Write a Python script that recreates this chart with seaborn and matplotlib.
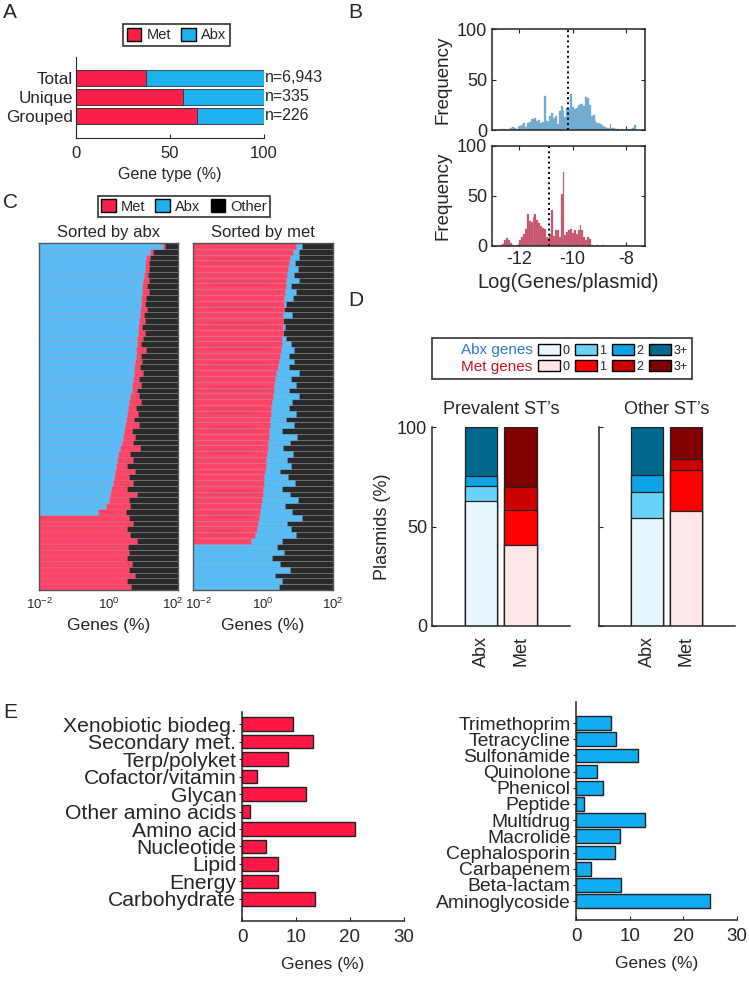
import numpy as np
import pandas as pd
import matplotlib
matplotlib.use('Agg')
import matplotlib.pyplot as plt
from matplotlib.patches import Patch
from matplotlib.transforms import ScaledTranslation
import seaborn as sns

# ---------------- data ----------------
# A: gene type split
sets = ['Total', 'Unique', 'Grouped']
met_pct = [37, 57, 64.5]
abx_pct = [63, 43, 35.5]
n_labels = ['n=6,943', 'n=335', 'n=226']

# B: histogram of log(genes/plasmid), fixed bins
bin_start = -12.75
bin_width = 0.07
abx_counts = [1, 0, 1, 1, 0, 1, 2, 3, 2, 1, 3, 4, 5, 7, 3, 7, 8, 11, 11, 12,
              9, 10, 7, 8, 34, 9, 8, 14, 17, 12, 14, 6, 19, 24, 19, 13, 22, 21, 36, 23,
              21, 22, 25, 26, 26, 24, 33, 32, 25, 14, 15, 9, 7, 7, 6, 4, 3, 2, 2, 6,
              2, 2, 1, 1, 0, 1, 0, 1, 1, 0, 1, 2, 5]
met_counts = [0, 1, 2, 6, 8, 6, 3, 1, 0, 1, 2, 6, 9, 12, 17, 32, 25, 24, 29, 32,
              26, 23, 20, 18, 17, 9, 8, 12, 36, 10, 16, 16, 9, 52, 74, 11, 14, 16, 17, 13,
              16, 12, 16, 21, 16, 9, 6, 9, 7, 1, 0, 0, 1, 0, 0, 1, 0, 0, 0, 0,
              0, 0, 0, 0, 0, 0, 0, 0, 0, 0, 0, 0, 0]
abx_median = -10.17
met_median = -10.88

# C: per-plasmid composition (%), sorted by abx / sorted by met
byabx_abx = [38, 16, 12, 11.5, 11, 10.5, 10, 9.5, 9.2, 8.8,
             8.5, 8.0, 7.8, 7.5, 7.2, 7.0, 6.7, 6.4, 6.2, 6.0,
             5.8, 5.6, 5.3, 5.0, 4.8, 4.6, 4.2, 3.9, 3.6, 3.3,
             3.1, 3.0, 2.8, 2.6, 2.4, 2.2, 1.9, 1.7, 1.6, 1.5,
             1.45, 1.35, 1.2, 1.1, 1.0, 0.85, 0.5, 0, 0, 0,
             0, 0, 0, 0, 0, 0, 0, 0, 0, 0]
byabx_met = [3, 2.5, 3.5, 2.8, 4, 3, 4.5, 3.2, 5, 3.6,
             3, 4.8, 2.6, 3.9, 2.2, 4.5, 3, 2.4, 5.5, 2.8,
             3.5, 2.2, 4.6, 2.5, 3.8, 1.8, 3.2, 5, 2.4, 3.6,
             2.2, 4.4, 1.9, 3.3, 2.6, 6, 2.2, 3.4, 1.8, 4.2,
             2.5, 3.6, 2.1, 5.5, 2.8, 3.4, 2.6, 3.8, 5.2, 3.5,
             4.2, 6.5, 3.6, 4.0, 3.3, 4.6, 3.9, 5.8, 3.5, 4.4]
bymet_met = [9, 7, 6, 5.6, 5.2, 4.9, 4.6, 4.4, 4.3, 4.1,
             4.0, 3.9, 3.8, 3.75, 3.7, 3.65, 3.6, 3.4, 3.2, 3.0,
             2.8, 2.6, 2.4, 2.25, 2.1, 2.0, 1.9, 1.8, 1.7, 1.65,
             1.6, 1.55, 1.5, 1.45, 1.4, 1.35, 1.3, 1.25, 1.2, 1.15,
             1.1, 1.05, 1.0, 0.97, 0.93, 0.88, 0.8, 0.75, 0.7, 0.66,
             0.6, 0.46, 0, 0, 0, 0, 0, 0, 0, 0]
bymet_abx = [4, 3.5, 5, 2.5, 4.5, 3, 6, 2, 4.5, 3,
             0.6, 0, 2.8, 0, 0.5, 0, 0.8, 3, 4.5, 2.5,
             5, 3, 8, 4, 6.5, 3.5, 9, 5, 4, 7,
             3, 6, 2, 8, 4.5, 2.5, 6, 3.5, 5, 2,
             4, 7, 2.5, 5, 9, 3.5, 6, 12, 4, 5.5,
             8, 3, 2.5, 4, 1.8, 3, 6, 2.2, 3.5, 2.8]

# D: genes per plasmid (% of plasmids), levels 0 / 1 / 2 / 3+
gene_levels = ['0', '1', '2', '3+']
prev_abx = [62.7, 7.5, 5.4, 24.4]
prev_met = [40.6, 17.6, 11.4, 30.4]
other_abx = [54.3, 12.8, 9.0, 23.9]
other_met = [57.7, 20.9, 5.3, 16.1]

# E: gene categories
met_pathways = ['Xenobiotic biodeg.', 'Secondary met.', 'Terp/polyket', 'Cofactor/vitamin',
                'Glycan', 'Other amino acids', 'Amino acid', 'Nucleotide', 'Lipid',
                'Energy', 'Carbohydrate']
met_pathway_pct = [9.5, 13.2, 8.6, 2.8, 11.9, 1.5, 21.0, 4.4, 6.6, 6.7, 13.5]
abx_classes = ['Trimethoprim', 'Tetracycline', 'Sulfonamide', 'Quinolone', 'Phenicol',
               'Peptide', 'Multidrug', 'Macrolide', 'Cephalosporin', 'Carbapenem',
               'Beta-lactam', 'Aminoglycoside']
abx_class_pct = [6.5, 7.5, 11.5, 4.0, 5.0, 1.5, 12.8, 8.2, 7.2, 2.8, 8.4, 24.9]

# ---------------- style ----------------
sns.set_style('ticks')
plt.rcParams['font.family'] = ['Liberation Sans', 'DejaVu Sans']
plt.rcParams['mathtext.fontset'] = 'custom'
plt.rcParams['mathtext.rm'] = 'Liberation Sans'
plt.rcParams['axes.unicode_minus'] = False
TXT = '#262626'
for k in ['text.color', 'axes.labelcolor', 'xtick.color', 'ytick.color', 'axes.edgecolor']:
    plt.rcParams[k] = TXT

RED = '#F81F48'
BLUE = '#1DB1EF'
C_RED = '#FF4465'
C_BLUE = '#56BDF8'
C_BLACK = '#2A2A2A'
ABX_COLS = ['#E6F8FD', '#69D4FB', '#0DA3E6', '#00688F']
MET_COLS = ['#FFE6E8', '#FF0000', '#CC0000', '#800000']

W, H = 749, 981
fig = plt.figure(figsize=(W / 100, H / 100), dpi=100)


def add_ax(l, t, r, b):
    return fig.add_axes([l / W, 1 - b / H, (r - l) / W, (b - t) / H])


def fx(x):
    return x / W


def fy(y):
    return 1 - y / H


# panel letters
for lab, x, y in [('A', 10, 12), ('B', 355, 12), ('C', 10, 203), ('D', 356, 301), ('E', 10, 712)]:
    fig.text(fx(x), fy(y), lab, fontsize=15, ha='center', va='center')

# ---------------- A ----------------
axA = add_ax(76, 57, 264, 138)
totals = [m + a for m, a in zip(met_pct, abx_pct)]
sns.barplot(x=totals, y=sets, orient='h', color=BLUE, saturation=1, width=0.8,
            edgecolor='#333333', linewidth=0.6, ax=axA)
sns.barplot(x=met_pct, y=sets, orient='h', color=RED, saturation=1, width=0.8,
            edgecolor='#333333', linewidth=0.6, ax=axA)
for i, lab in enumerate(n_labels):
    axA.text(100.5, i, lab, va='center', ha='left', fontsize=11.5)
axA.set_xlim(0, 100)
axA.set_ylim(3.16, -1.1)
axA.set_xticks([0, 50, 100])
axA.tick_params(axis='x', direction='in', length=3, labelsize=12, pad=6)
axA.tick_params(axis='y', length=0, labelsize=12.3, pad=2)
axA.set_xlabel('Gene type (%)', fontsize=11.5)
axA.set_ylabel('')
sns.despine(ax=axA)
legA = fig.legend([Patch(facecolor=RED, edgecolor='black'), Patch(facecolor=BLUE, edgecolor='black')],
                  ['Met', 'Abx'], loc='center', bbox_to_anchor=(fx(176.5), fy(35)), ncol=2,
                  fancybox=False, edgecolor='black', fontsize=10.5, handlelength=1.0,
                  handleheight=1.0, handletextpad=0.35, columnspacing=0.7, borderpad=0.25)
legA.get_frame().set_linewidth(1.2)

# ---------------- B ----------------
n_bins = len(abx_counts)
centers = [bin_start + bin_width * (i + 0.5) for i in range(n_bins)]
axB1 = add_ax(492, 29, 645, 130)
axB2 = add_ax(492, 146, 645, 246)
for ax, counts, col, med in [(axB1, abx_counts, '#64B2E4', abx_median),
                             (axB2, met_counts, '#D9435F', met_median)]:
    hist_df = pd.DataFrame({'logratio': centers, 'count': counts})
    sns.histplot(data=hist_df, x='logratio', weights='count', binwidth=bin_width,
                 binrange=(bin_start, bin_start + bin_width * n_bins), color=col, alpha=1,
                 edgecolor='#9A9FA4', linewidth=0.25, ax=ax)
    ax.axvline(med, color='black', linestyle=':', linewidth=1.4)
    ax.set_xlim(-13.0, -7.3)
    ax.set_ylim(0, 100)
    ax.set_yticks([0, 50, 100])
    ax.set_xticks([-12, -10, -8])
    ax.tick_params(direction='in', top=True, right=True, length=3, labelsize=13)
    ax.set_ylabel('Frequency', fontsize=13.5)
    for s in ax.spines.values():
        s.set_linewidth(1.1)
axB1.set_xticklabels([])
axB1.set_xlabel('')
axB2.set_xlabel('Log(Genes/plasmid)', fontsize=14.5)

# ---------------- C ----------------
def composition(ax, abx, met, order, title):
    other = [100 - a - m for a, m in zip(abx, met)]
    rows = np.arange(len(abx))
    ax.set_xscale('log')
    first, second = (abx, met) if order == 'abx' else (met, abx)
    c1, c2 = (C_BLUE, C_RED) if order == 'abx' else (C_RED, C_BLUE)
    total = [a + b + c for a, b, c in zip(first, second, other)]
    cum2 = [a + b for a, b in zip(first, second)]
    line = (1, 1, 1, 0.12)
    ax.barh(rows, total, height=1.0, color=C_BLACK, edgecolor=line, linewidth=0.4)
    ax.barh(rows, cum2, height=1.0, color=c2, edgecolor=line, linewidth=0.4)
    ax.barh(rows, first, height=1.0, color=c1, edgecolor=line, linewidth=0.4)
    ax.set_xlim(1e-2, 1e2)
    ax.set_ylim(len(abx) - 0.5, -0.5)
    ax.set_xticks([1e-2, 1e0, 1e2])
    ax.set_xticklabels(['10$^{-2}$', '10$^{0}$', '10$^{2}$'])
    ax.minorticks_off()
    ax.set_yticks([])
    ax.tick_params(axis='x', length=0, labelsize=9.5, pad=5)
    ax.set_xlabel('Genes (%)', fontsize=12.5)
    ax.set_title(title, fontsize=12, pad=4)
    for s in ax.spines.values():
        s.set_color('#555555')
        s.set_linewidth(1)


axC1 = add_ax(39, 243, 178, 590)
axC2 = add_ax(193, 243, 333, 590)
composition(axC1, byabx_abx, byabx_met, 'abx', 'Sorted by abx')
composition(axC2, bymet_abx, bymet_met, 'met', 'Sorted by met')
# keep the touching end labels of the two panels apart
lab_r = axC1.get_xticklabels()[-1]
lab_r.set_transform(lab_r.get_transform() + ScaledTranslation(-0.05, 0, fig.dpi_scale_trans))
lab_l = axC2.get_xticklabels()[0]
lab_l.set_transform(lab_l.get_transform() + ScaledTranslation(0.05, 0, fig.dpi_scale_trans))
legC = fig.legend([Patch(facecolor=RED, edgecolor='black'), Patch(facecolor=BLUE, edgecolor='black'),
                   Patch(facecolor='black', edgecolor='black')],
                  ['Met', 'Abx', 'Other'], loc='center', bbox_to_anchor=(fx(184), fy(206.5)), ncol=3,
                  fancybox=False, edgecolor='black', fontsize=10.5, handlelength=1.0,
                  handleheight=1.0, handletextpad=0.35, columnspacing=0.7, borderpad=0.2)
legC.get_frame().set_linewidth(1.2)

# ---------------- D ----------------
def stacked_st(ax, abx_vals, met_vals, title, show_y):
    cats = ['Abx', 'Met']
    for k in range(len(gene_levels) - 1, -1, -1):
        tops = [sum(abx_vals[:k + 1]), sum(met_vals[:k + 1])]
        sns.barplot(x=cats, y=tops, hue=cats, palette=[ABX_COLS[k], MET_COLS[k]], legend=False,
                    saturation=1, width=0.82, edgecolor='#222222', linewidth=0.9, ax=ax)
    ax.set_xlim(-1.24, 2.25)
    ax.set_ylim(0, 100)
    ax.set_yticks([0, 50, 100])
    ax.tick_params(axis='y', direction='in', length=3, labelsize=13)
    ax.tick_params(axis='x', length=0, labelsize=13, rotation=90, pad=7)
    ax.set_title(title, fontsize=13, pad=9)
    ax.set_xlabel('')
    if show_y:
        ax.set_ylabel('Plasmids (%)', fontsize=13)
    else:
        ax.set_yticklabels([])
        ax.set_ylabel('')
    sns.despine(ax=ax)
    for s in ax.spines.values():
        s.set_linewidth(1.1)


axD1 = add_ax(432, 427, 570, 626)
axD2 = add_ax(599, 427, 735, 626)
stacked_st(axD1, prev_abx, prev_met, 'Prevalent ST\u2019s', True)
stacked_st(axD2, other_abx, other_met, 'Other ST\u2019s', False)

blank = Patch(visible=False)
handles = [blank, blank]
labels = ['Abx genes', 'Met genes']
for k, lev in enumerate(gene_levels):
    handles += [Patch(facecolor=ABX_COLS[k], edgecolor='black'), Patch(facecolor=MET_COLS[k], edgecolor='black')]
    labels += [lev, lev]
legD = fig.legend(handles, labels, loc='center', bbox_to_anchor=(fx(562), fy(358.5)), ncol=5,
                  fancybox=False, edgecolor='black', fontsize=9, handlelength=1.75,
                  handleheight=0.95, handletextpad=0.2, columnspacing=0.45, borderpad=0.35,
                  labelspacing=0.3)
legD.get_frame().set_linewidth(1.2)
texts = legD.get_texts()
texts[0].set_color('#2A7BCF')
texts[1].set_color('#C8141E')
texts[0].set_fontsize(11)
texts[1].set_fontsize(11)

# ---------------- E ----------------
def category_bars(ax, vals, names, col, ylim, width, label_size):
    sns.barplot(x=vals, y=names, orient='h', color=col, saturation=1, width=width,
                edgecolor='#222222', linewidth=1, ax=ax)
    ax.set_xlim(0, 30)
    ax.set_ylim(*ylim)
    ax.set_xticks([0, 10, 20, 30])
    ax.tick_params(axis='x', direction='in', length=3, labelsize=13.5, pad=6)
    ax.tick_params(axis='y', direction='out', length=2, labelsize=label_size, pad=2)
    ax.set_xlabel('Genes (%)', fontsize=12.5, labelpad=8)
    ax.set_ylabel('')
    sns.despine(ax=ax)
    for s in ax.spines.values():
        s.set_linewidth(1.1)


axE1 = add_ax(242, 712, 404, 921)
axE2 = add_ax(576, 702, 737, 920)
category_bars(axE1, met_pathway_pct, met_pathways, '#FF1744', (11.26, -0.69), 0.78, 15.2)
category_bars(axE2, abx_class_pct, abx_classes, '#12ACF0', (12.17, -1.3), 0.85, 13.9)

fig.savefig('out.png', dpi=100)
